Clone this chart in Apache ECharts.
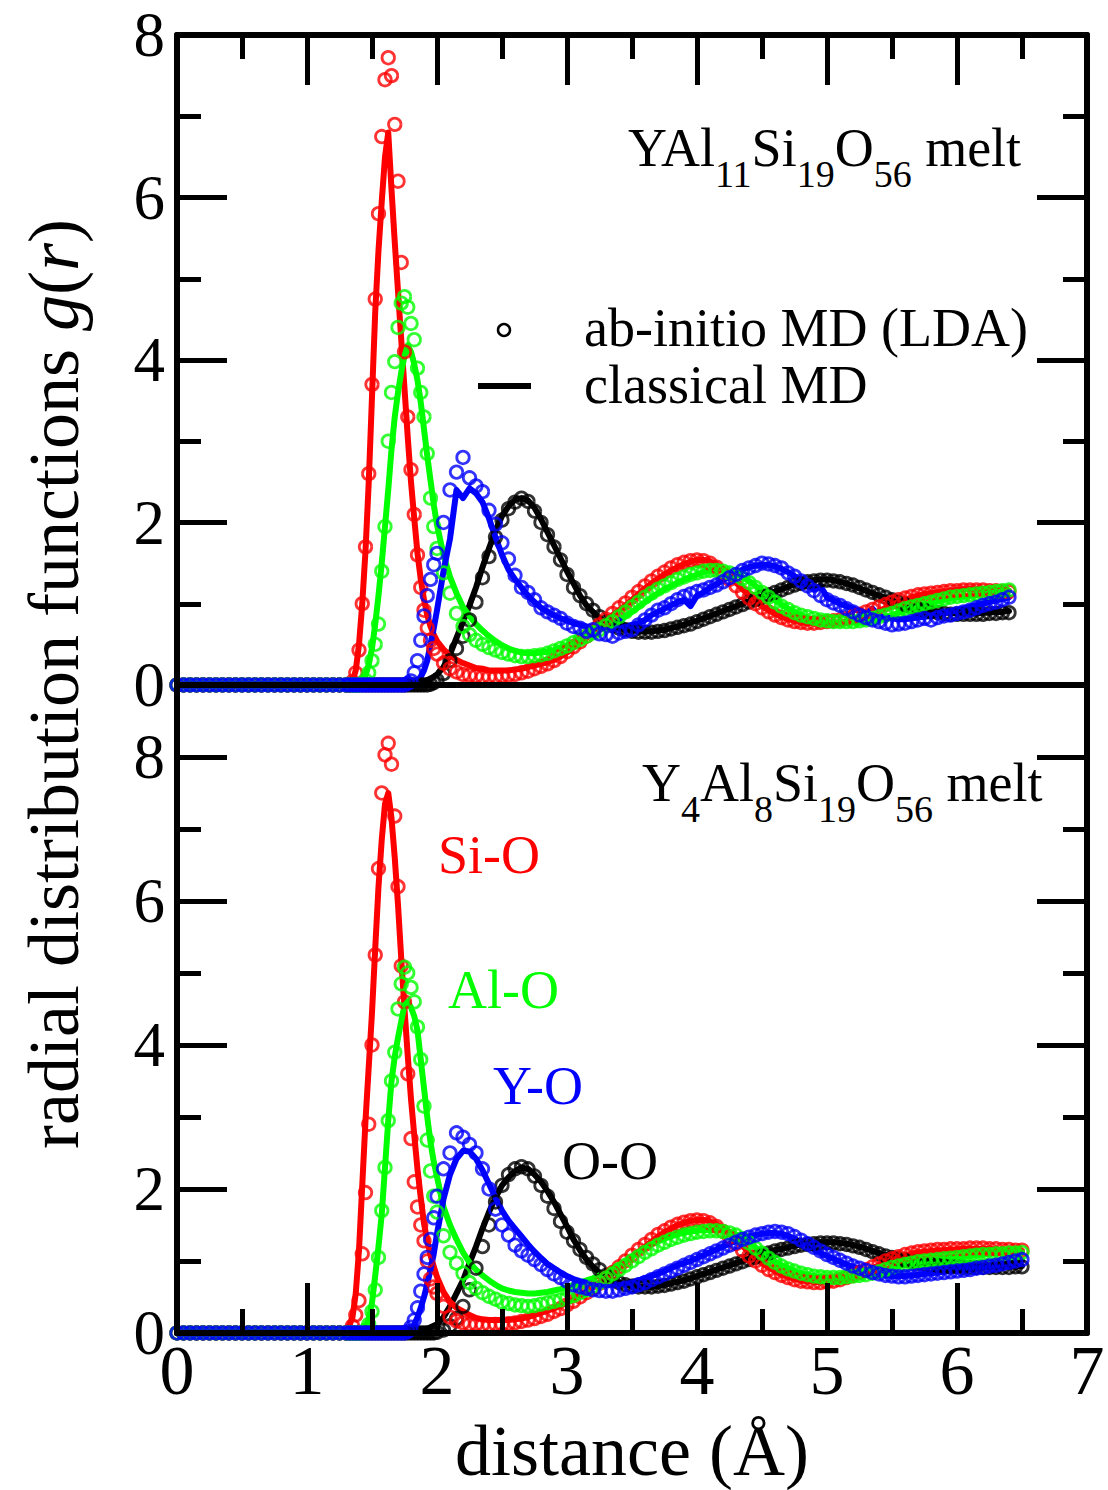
<!DOCTYPE html>
<html>
<head>
<meta charset="utf-8">
<script src="https://cdn.jsdelivr.net/npm/echarts@6/dist/echarts.min.js"></script>
<style>
html,body{margin:0;padding:0;background:#fff;}
#chart{width:1108px;height:1490px;}
</style>
</head>
<body>
<div id="chart"></div>
<script>
// ---------------- DATA ----------------
// distance grid r (Å)
const r = [
 0,0.05,0.1,0.15,0.2,0.25,0.3,0.35,0.4,0.45,0.5,0.55,0.6,0.65,0.7,0.75,0.8,0.85,0.9,0.95,1,1.05,1.1,1.15,1.2,1.25,1.3,
 1.325,1.35,1.375,1.4,1.425,1.45,1.475,1.5,1.525,1.55,
 1.575,1.6,1.625,1.65,1.675,1.7,1.725,1.75,1.775,1.8,
 1.825,1.85,1.875,1.9,1.925,1.95,1.975,2,
 2.05,2.1,2.15,2.2,2.25,2.3,2.35,2.4,2.45,2.5,
 2.55,2.6,2.65,2.7,2.75,2.8,2.85,2.9,2.95,3,
 3.05,3.1,3.15,3.2,3.25,3.3,3.35,3.4,3.45,3.5,
 3.55,3.6,3.65,3.7,3.75,3.8,3.85,3.9,3.95,4,
 4.05,4.1,4.15,4.2,4.25,4.3,4.35,4.4,4.45,4.5,
 4.55,4.6,4.65,4.7,4.75,4.8,4.85,4.9,4.95,5,
 5.05,5.1,5.15,5.2,5.25,5.3,5.35,5.4,5.45,5.5,
 5.55,5.6,5.65,5.7,5.75,5.8,5.85,5.9,5.95,6,
 6.05,6.1,6.15,6.2,6.25,6.3,6.35,6.4,6.45,6.5
];

// ===== top panel: YAl11Si19O56 melt =====
const top_OO_abinitio = [
 0,0,0,0,0,0,0,0,0, 0,0,0,0,0,0,0,0,0, 0,0,0,0,0,0,0,0,0,
 0,0,0,0,0,0,0,0,0,0,
 0,0,0,0,0,0,0,0,0,0,
 0,0,0,0,0,0.01,0.03,0.06,
 0.14,0.3,0.45,0.6,0.8,1.02,1.32,1.58,1.82,2.03,
 2.17,2.25,2.3,2.26,2.14,2,1.85,1.7,1.54,1.36,
 1.2,1.1,1,0.92,0.84,0.78,0.73,0.7,0.68,0.66,
 0.65,0.65,0.65,0.66,0.67,0.69,0.71,0.73,0.75,0.78,
 0.81,0.84,0.87,0.9,0.93,0.96,0.99,1.02,1.05,1.08,
 1.11,1.14,1.17,1.2,1.23,1.25,1.27,1.28,1.29,1.29,
 1.28,1.27,1.25,1.23,1.2,1.17,1.14,1.11,1.08,1.05,
 1.02,0.99,0.96,0.94,0.92,0.9,0.89,0.88,0.87,0.87,
 0.87,0.87,0.87,0.87,0.88,0.88,0.89,0.89,null,null
];
const top_OO_classical = [
 0,0,0,0,0,0,0,0,0, 0,0,0,0,0,0,0,0,0, 0,0,0,0,0,0,0,0,0,
 0,0,0,0,0,0,0,0,0,0,
 0,0,0,0,0,0,0,0,0.005,0.01,
 0.01,0.02,0.03,0.04,0.06,0.08,0.1,0.13,
 0.22,0.38,0.58,0.78,0.98,1.2,1.45,1.68,1.9,2.08,
 2.2,2.28,2.3,2.27,2.18,2.04,1.88,1.72,1.56,1.4,
 1.25,1.1,0.98,0.9,0.82,0.77,0.72,0.7,0.68,0.67,
 0.66,0.66,0.66,0.67,0.68,0.7,0.72,0.74,0.77,0.79,
 0.82,0.85,0.88,0.91,0.94,0.97,1,1.03,1.06,1.09,
 1.12,1.15,1.18,1.21,1.24,1.26,1.28,1.29,1.3,1.3,
 1.29,1.27,1.25,1.22,1.19,1.16,1.13,1.1,1.07,1.04,
 1.01,0.98,0.96,0.94,0.92,0.91,0.9,0.89,0.89,0.88,
 0.88,0.88,0.88,0.89,0.89,0.9,0.9,0.91,null,null
];
const top_SiO_abinitio = [
 0,0,0,0,0,0,0,0,0, 0,0,0,0,0,0,0,0,0, 0,0,0,0,0,0,0,0,0,
 0,0.04,0.15,0.43,1,1.7,2.6,3.7,4.75,5.8,
 6.75,7.45,7.72,7.5,6.9,6.2,5.2,4.1,3.3,2.65,
 2.1,1.6,1.2,0.92,0.7,0.55,0.45,0.38,
 0.27,0.2,0.16,0.13,0.12,0.11,0.1,0.1,0.1,0.11,
 0.12,0.13,0.15,0.17,0.2,0.23,0.26,0.3,0.35,0.41,
 0.47,0.53,0.6,0.67,0.74,0.81,0.88,0.95,1.01,1.08,
 1.15,1.22,1.28,1.34,1.39,1.44,1.48,1.51,1.53,1.54,
 1.53,1.5,1.45,1.38,1.3,1.22,1.14,1.07,1,0.95,
 0.9,0.86,0.83,0.8,0.78,0.77,0.76,0.76,0.77,0.78,
 0.79,0.8,0.82,0.84,0.87,0.9,0.93,0.96,0.99,1.02,
 1.05,1.07,1.09,1.11,1.12,1.13,1.14,1.15,1.16,1.16,
 1.17,1.17,1.17,1.17,1.16,1.16,1.15,1.15,null,null
];
const top_SiO_classical = [
 0,0,0,0,0,0,0,0,0, 0,0,0,0,0,0,0,0,0, 0,0,0,0,0,0,0,0,0,
 0,0.05,0.18,0.5,1,1.65,2.5,3.55,4.6,5.35,
 5.95,6.5,6.8,6.1,5.45,4.85,4.25,3.65,3.05,2.5,
 2.05,1.62,1.3,1.05,0.86,0.72,0.62,0.54,
 0.44,0.36,0.31,0.27,0.24,0.21,0.2,0.18,0.18,0.18,
 0.18,0.19,0.2,0.22,0.24,0.26,0.28,0.31,0.35,0.4,
 0.46,0.52,0.58,0.65,0.72,0.79,0.86,0.92,0.98,1.05,
 1.12,1.19,1.25,1.31,1.36,1.41,1.45,1.49,1.52,1.54,
 1.54,1.52,1.48,1.42,1.34,1.26,1.18,1.1,1.03,0.97,
 0.92,0.88,0.84,0.81,0.79,0.77,0.76,0.76,0.76,0.76,
 0.77,0.77,0.78,0.8,0.82,0.85,0.88,0.91,0.95,0.99,
 1.02,1.05,1.08,1.1,1.12,1.13,1.14,1.15,1.16,1.17,
 1.18,1.18,1.18,1.18,1.18,1.17,1.17,1.16,null,null
];
const top_AlO_abinitio = [
 0,0,0,0,0,0,0,0,0, 0,0,0,0,0,0,0,0,0, 0,0,0,0,0,0,0,0,0,
 0,0,0,0,0.02,0.06,0.15,0.3,0.5,0.75,
 1.4,1.95,3,3.6,3.98,4.4,4.7,4.78,4.65,4.45,
 4.25,3.9,3.6,3.3,2.85,2.3,1.95,1.68,
 1.38,1.13,0.88,0.72,0.62,0.55,0.5,0.46,0.43,0.4,
 0.38,0.36,0.35,0.35,0.36,0.37,0.39,0.42,0.45,0.48,
 0.52,0.56,0.6,0.64,0.68,0.73,0.78,0.84,0.9,0.96,
 1.02,1.08,1.13,1.18,1.22,1.26,1.3,1.33,1.36,1.38,
 1.4,1.41,1.41,1.4,1.38,1.35,1.31,1.26,1.2,1.14,
 1.08,1.02,0.97,0.93,0.89,0.86,0.84,0.82,0.8,0.79,
 0.78,0.78,0.78,0.78,0.79,0.8,0.82,0.84,0.86,0.88,
 0.91,0.94,0.96,0.98,1,1.02,1.04,1.06,1.08,1.09,
 1.1,1.11,1.12,1.13,1.14,1.15,1.16,1.17,null,null
];
const top_AlO_classical = [
 0,0,0,0,0,0,0,0,0, 0,0,0,0,0,0,0,0,0, 0,0,0,0,0,0,0,0,0,
 0,0,0,0,0.05,0.12,0.25,0.45,0.75,1.1,
 1.5,1.95,2.4,2.9,3.3,3.6,3.85,4.05,4.18,4.1,
 3.95,3.75,3.48,3.15,2.82,2.52,2.22,1.97,
 1.6,1.33,1.13,0.96,0.85,0.75,0.67,0.6,0.54,0.49,
 0.45,0.42,0.4,0.39,0.39,0.4,0.41,0.43,0.46,0.49,
 0.53,0.57,0.61,0.65,0.69,0.73,0.77,0.8,0.85,0.9,
 0.96,1.02,1.08,1.13,1.18,1.22,1.26,1.3,1.33,1.36,
 1.39,1.41,1.42,1.42,1.4,1.37,1.33,1.28,1.22,1.16,
 1.1,1.04,0.99,0.94,0.9,0.86,0.83,0.81,0.79,0.78,
 0.77,0.77,0.77,0.77,0.77,0.78,0.8,0.82,0.84,0.86,
 0.89,0.92,0.95,0.97,0.99,1.01,1.03,1.05,1.07,1.08,
 1.09,1.1,1.11,1.12,1.13,1.14,1.15,1.16,null,null
];
const top_YO_abinitio = [
 0,0,0,0,0,0,0,0,0, 0,0,0,0,0,0,0,0,0, 0,0,0,0,0,0,0,0,0,
 0,0,0,0,0,0,0,0,0,0,
 0,0,0,0,0,0,0,0,0.02,0.05,
 0.15,0.3,0.55,0.85,1.1,1.3,1.48,1.62,
 2,2.4,2.62,2.8,2.55,2.45,2.38,2.15,1.98,1.75,
 1.55,1.35,1.2,1.14,1.05,0.95,0.9,0.86,0.82,0.76,
 0.72,0.7,0.66,0.68,0.63,0.62,0.6,0.64,0.66,0.68,
 0.74,0.8,0.86,0.92,0.95,1,1.05,1.09,1.12,1.15,
 1.17,1.2,1.23,1.27,1.32,1.36,1.41,1.44,1.47,1.5,
 1.49,1.47,1.44,1.38,1.34,1.28,1.22,1.16,1.1,1.05,
 1.01,0.98,0.94,0.9,0.86,0.83,0.8,0.78,0.76,0.74,
 0.75,0.76,0.78,0.8,0.82,0.8,0.83,0.85,0.86,0.88,
 0.9,0.92,0.95,0.98,1,1.02,1.05,1.08,null,null
];
const top_YO_classical = [
 0,0,0,0,0,0,0,0,0, 0,0,0,0,0,0,0,0,0, 0,0,0,0,0,0,0,0,0,
 0,0,0,0,0,0,0,0,0,0,
 0,0,0,0,0,0,0,0,0.01,0.01,
 0.02,0.05,0.1,0.18,0.3,0.5,0.7,0.92,
 1.4,1.8,2.4,2.3,2.42,2.36,2.25,2.05,1.82,1.6,
 1.42,1.3,1.2,1.1,1.02,0.95,0.9,0.86,0.82,0.79,
 0.76,0.74,0.72,0.71,0.7,0.72,0.7,0.8,0.72,0.74,
 0.76,0.8,0.86,0.9,0.94,0.98,1.02,1.05,0.97,1.1,
 1.14,1.2,1.24,1.29,1.33,1.37,1.42,1.45,1.47,1.48,
 1.48,1.46,1.43,1.39,1.34,1.28,1.22,1.17,1.22,1.08,
 1.04,1,0.97,0.94,0.91,0.88,0.94,0.85,0.83,0.82,
 0.81,0.81,0.82,0.83,0.84,0.85,0.87,0.88,0.9,0.92,
 0.94,0.96,0.98,1,1.02,1.04,1.06,1.08,null,null
];

// ===== bottom panel: Y4Al8Si19O56 melt =====
const bot_OO_abinitio = [
 0,0,0,0,0,0,0,0,0, 0,0,0,0,0,0,0,0,0, 0,0,0,0,0,0,0,0,0,
 0,0,0,0,0,0,0,0,0,0,
 0,0,0,0,0,0,0,0,0,0,
 0,0,0,0,0,0,0,0.01,
 0.04,0.1,0.2,0.37,0.6,0.9,1.2,1.5,1.82,2.05,
 2.2,2.28,2.31,2.28,2.18,2.05,1.9,1.73,1.55,1.4,
 1.28,1.16,1.05,0.96,0.88,0.8,0.74,0.7,0.67,0.65,
 0.64,0.64,0.64,0.65,0.66,0.68,0.7,0.72,0.75,0.78,
 0.81,0.84,0.87,0.9,0.93,0.96,0.99,1.02,1.05,1.08,
 1.11,1.14,1.16,1.18,1.2,1.22,1.23,1.24,1.25,1.25,
 1.25,1.24,1.23,1.21,1.19,1.16,1.13,1.1,1.07,1.05,
 1.03,1.01,0.99,0.97,0.96,0.95,0.94,0.93,0.92,0.92,
 0.91,0.91,0.91,0.91,0.91,0.91,0.91,0.91,0.92,0.92
];
const bot_OO_classical = [
 0,0,0,0,0,0,0,0,0, 0,0,0,0,0,0,0,0,0, 0,0,0,0,0,0,0,0,0,
 0,0,0,0,0,0,0,0,0,0,
 0,0,0,0,0,0,0,0,0,0,
 0.01,0.02,0.03,0.04,0.06,0.08,0.1,0.12,
 0.22,0.37,0.55,0.73,0.97,1.2,1.45,1.68,1.88,2.05,
 2.16,2.25,2.3,2.28,2.2,2.1,1.97,1.82,1.65,1.48,
 1.3,1.15,1.02,0.92,0.84,0.78,0.73,0.7,0.67,0.65,
 0.64,0.64,0.64,0.65,0.67,0.69,0.71,0.73,0.76,0.79,
 0.82,0.85,0.88,0.91,0.94,0.97,1,1.03,1.06,1.09,
 1.12,1.15,1.17,1.19,1.21,1.23,1.24,1.25,1.26,1.26,
 1.26,1.25,1.24,1.22,1.2,1.17,1.14,1.11,1.08,1.06,
 1.04,1.02,1,0.98,0.97,0.96,0.95,0.94,0.93,0.93,
 0.92,0.92,0.92,0.92,0.92,0.92,0.92,0.92,0.92,0.93
];
const bot_SiO_abinitio = [
 0,0,0,0,0,0,0,0,0, 0,0,0,0,0,0,0,0,0, 0,0,0,0,0,0,0,0,0,
 0.02,0.1,0.25,0.45,1.1,1.95,2.9,4,5.25,6.45,
 7.5,8.03,8.19,7.9,7.18,6.2,5.1,4.6,3.6,2.7,
 2.1,1.75,1.5,1.28,1,0.75,0.64,0.55,
 0.37,0.22,0.17,0.14,0.12,0.12,0.11,0.11,0.12,0.12,
 0.13,0.14,0.16,0.18,0.2,0.23,0.26,0.3,0.34,0.39,
 0.44,0.5,0.56,0.62,0.69,0.76,0.84,0.92,1,1.08,
 1.16,1.23,1.3,1.37,1.42,1.47,1.51,1.54,1.56,1.57,
 1.56,1.53,1.48,1.41,1.33,1.24,1.15,1.07,1,0.94,
 0.88,0.84,0.8,0.77,0.74,0.72,0.71,0.7,0.7,0.71,
 0.72,0.74,0.77,0.8,0.84,0.88,0.92,0.96,1,1.03,
 1.06,1.09,1.11,1.13,1.14,1.15,1.16,1.16,1.17,1.17,
 1.17,1.18,1.18,1.18,1.17,1.17,1.16,1.16,1.15,1.15
];
const bot_SiO_classical = [
 0,0,0,0,0,0,0,0,0, 0,0,0,0,0,0,0,0,0, 0,0,0,0,0,0,0,0,0,
 0.1,0.22,0.55,1.15,2.05,2.95,3.7,4.45,5.35,6.2,
 6.85,7.35,7.5,7.15,6.6,5.95,5.2,4.5,3.85,3.25,
 2.75,2.27,1.88,1.52,1.28,1.08,0.92,0.78,
 0.57,0.43,0.35,0.3,0.25,0.21,0.19,0.18,0.18,0.18,
 0.18,0.19,0.2,0.22,0.25,0.28,0.31,0.34,0.38,0.42,
 0.47,0.52,0.58,0.64,0.7,0.76,0.83,0.9,0.98,1.06,
 1.13,1.2,1.27,1.34,1.4,1.45,1.5,1.53,1.56,1.57,
 1.57,1.55,1.51,1.45,1.38,1.3,1.21,1.12,1.04,0.97,
 0.91,0.86,0.81,0.78,0.75,0.73,0.72,0.71,0.71,0.71,
 0.72,0.73,0.75,0.78,0.82,0.86,0.9,0.94,0.98,1.02,
 1.05,1.08,1.1,1.12,1.13,1.14,1.15,1.15,1.16,1.16,
 1.17,1.17,1.17,1.17,1.17,1.16,1.16,1.15,1.15,1.14
];
const bot_AlO_abinitio = [
 0,0,0,0,0,0,0,0,0, 0,0,0,0,0,0,0,0,0, 0,0,0,0,0,0,0,0,0,
 0,0,0,0,0,0.04,0.12,0.3,0.6,1.05,
 1.7,2.3,2.95,3.5,3.9,4.5,4.85,5.08,5,4.8,
 4.6,4.25,3.8,3.15,2.68,2.25,1.9,1.68,
 1.35,1.12,0.97,0.83,0.7,0.62,0.56,0.51,0.47,0.43,
 0.41,0.39,0.38,0.37,0.38,0.4,0.42,0.44,0.46,0.49,
 0.52,0.56,0.6,0.65,0.7,0.76,0.82,0.88,0.94,1,
 1.06,1.12,1.17,1.22,1.26,1.3,1.33,1.36,1.38,1.4,
 1.41,1.42,1.42,1.41,1.39,1.36,1.31,1.25,1.18,1.11,
 1.04,0.98,0.93,0.89,0.86,0.83,0.81,0.79,0.78,0.77,
 0.77,0.77,0.78,0.79,0.8,0.81,0.83,0.85,0.88,0.91,
 0.93,0.95,0.97,0.99,1,1.01,1.02,1.03,1.04,1.05,
 1.06,1.07,1.08,1.09,1.09,1.1,1.1,1.11,1.11,1.12
];
const bot_AlO_classical = [
 0,0,0,0,0,0,0,0,0, 0,0,0,0,0,0,0,0,0, 0,0,0,0,0,0,0,0,0,
 0,0,0,0,0.03,0.08,0.2,0.42,0.8,1.2,
 1.65,2.3,2.95,3.5,3.84,4.1,4.33,4.55,4.6,4.52,
 4.4,4.2,3.8,3.4,3,2.65,2.38,2.17,
 1.75,1.5,1.3,1.12,0.98,0.88,0.8,0.73,0.67,0.62,
 0.59,0.57,0.56,0.55,0.55,0.56,0.57,0.59,0.61,0.64,
 0.67,0.7,0.73,0.76,0.8,0.85,0.9,0.95,1,1.06,
 1.12,1.18,1.23,1.27,1.31,1.34,1.37,1.39,1.41,1.42,
 1.43,1.43,1.43,1.42,1.4,1.37,1.32,1.26,1.19,1.12,
 1.05,0.99,0.94,0.9,0.86,0.83,0.81,0.79,0.78,0.77,
 0.77,0.77,0.77,0.78,0.79,0.8,0.82,0.84,0.87,0.9,
 0.93,0.95,0.97,0.99,1,1.01,1.02,1.03,1.04,1.05,
 1.06,1.07,1.08,1.09,1.1,1.1,1.11,1.11,1.12,1.12
];
const bot_YO_abinitio = [
 0,0,0,0,0,0,0,0,0, 0,0,0,0,0,0,0,0,0, 0,0,0,0,0,0,0,0,0,
 0,0,0,0,0,0,0,0,0,0,
 0,0,0,0,0,0,0,0,0.02,0.08,
 0.18,0.35,0.58,0.82,1.05,1.3,1.6,1.9,
 2.28,2.5,2.78,2.72,2.62,2.5,2.28,2,1.72,1.5,
 1.36,1.22,1.14,1.08,1.02,0.95,0.88,0.82,0.77,0.72,
 0.67,0.64,0.62,0.6,0.59,0.58,0.58,0.6,0.62,0.64,
 0.67,0.7,0.74,0.78,0.82,0.86,0.9,0.94,0.98,1.02,
 1.06,1.1,1.14,1.18,1.22,1.26,1.3,1.33,1.36,1.38,
 1.4,1.41,1.4,1.38,1.34,1.29,1.24,1.19,1.14,1.09,
 1.05,1.01,0.97,0.93,0.9,0.87,0.84,0.82,0.8,0.79,
 0.78,0.78,0.79,0.8,0.81,0.82,0.83,0.84,0.85,0.86,
 0.87,0.88,0.9,0.91,0.93,0.94,0.96,0.98,1,1.02
];
const bot_YO_classical = [
 0,0,0,0,0,0,0,0,0, 0,0,0,0,0,0,0,0,0, 0,0,0,0,0,0,0,0,0,
 0,0,0,0,0,0,0,0,0,0,
 0,0,0,0,0,0,0,0,0,0.05,
 0.12,0.22,0.35,0.5,0.68,0.88,1.1,1.38,
 1.86,2.2,2.42,2.53,2.52,2.42,2.26,2.07,1.88,1.7,
 1.56,1.45,1.34,1.23,1.13,1.04,0.96,0.9,0.84,0.79,
 0.75,0.72,0.7,0.68,0.67,0.67,0.67,0.68,0.69,0.71,
 0.73,0.76,0.79,0.82,0.86,0.9,0.94,0.97,1,1.04,
 1.08,1.12,1.16,1.2,1.24,1.28,1.31,1.34,1.36,1.38,
 1.39,1.39,1.38,1.35,1.31,1.26,1.21,1.16,1.11,1.07,
 1.03,0.99,0.95,0.92,0.89,0.86,0.84,0.82,0.8,0.79,
 0.79,0.79,0.8,0.81,0.82,0.83,0.84,0.85,0.86,0.87,
 0.88,0.89,0.9,0.91,0.93,0.94,0.96,0.97,0.99,1
];

// labels / categories
const pairNames = ['Si-O', 'Al-O', 'Y-O', 'O-O'];
const pairColors = ['#ff0000', '#00ff00', '#0000ff', '#000000'];
const xTickLabels = ['0','1','2','3','4','5','6','7'];
const legendTexts = ['ab-initio MD (LDA)', 'classical MD'];
const topTitle = [['YAl',0],['11',1],['Si',0],['19',1],['O',0],['56',1],[' melt',0]];
const botTitle = [['Y',0],['4',1],['Al',0],['8',1],['Si',0],['19',1],['O',0],['56',1],[' melt',0]];
const yTitle = 'radial distribution functions ';
const xTitle = 'distance (Å)';

// ---------------- CHART ----------------
const FONT = '"Liberation Serif", "Times New Roman", serif';
const chart = echarts.init(document.getElementById('chart'), null, {renderer: 'svg'});

const allSets = {top_OO_abinitio, top_OO_classical, top_SiO_abinitio, top_SiO_classical, top_AlO_abinitio, top_AlO_classical, top_YO_abinitio, top_YO_classical,
  bot_OO_abinitio, bot_OO_classical, bot_SiO_abinitio, bot_SiO_classical, bot_AlO_abinitio, bot_AlO_classical, bot_YO_abinitio, bot_YO_classical};
for (const k in allSets) { if (allSets[k].length !== r.length) console.error('length mismatch', k, allSets[k].length, r.length); }

function pts(vals) {
  const out = [];
  for (let i = 0; i < r.length; i++) { if (vals[i] !== null && vals[i] !== undefined) out.push([r[i], vals[i]]); }
  return out;
}
function scatterS(name, vals, color, xi, yi) {
  return {type: 'scatter', name, data: pts(vals), xAxisIndex: xi, yAxisIndex: yi, symbol: 'circle', symbolSize: 12.5,
    itemStyle: {color: 'rgba(0,0,0,0)', borderColor: color, borderWidth: 2.8}, clip: false, silent: true, animation: false, z: 2};
}
function lineS(name, vals, color, xi, yi) {
  return {type: 'line', name, data: pts(vals), xAxisIndex: xi, yAxisIndex: yi, showSymbol: false, symbol: 'none',
    lineStyle: {color: color, width: 6, join: 'round', cap: 'round'}, clip: false, silent: true, animation: false, z: 2};
}

const LINE = {show: true, onZero: false, lineStyle: {color: '#000', width: 6}};
const MAJ = {show: true, inside: true, length: 50, lineStyle: {color: '#000', width: 5}};
const MIN = {show: true, inside: true, length: 24, lineStyle: {color: '#000', width: 5}};
const XLBL = {show: true, color: '#000', fontFamily: FONT, fontSize: 70, lineHeight: 52, showMinLabel: true, showMaxLabel: true};
const YLBL = {show: true, color: '#000', fontFamily: FONT, fontSize: 63, lineHeight: 50, showMinLabel: true, showMaxLabel: true};
function ax(o) {
  return Object.assign({type: 'value', min: 0, splitLine: {show: false}, axisLabel: {show: false},
    axisTick: {show: false}, axisLine: {show: false, onZero: false}, z: 10}, o);
}

const xAxis = [
  ax({gridIndex: 0, position: 'top', max: 7, interval: 1, axisLine: LINE, axisTick: MAJ}),
  ax({gridIndex: 0, position: 'top', max: 7, interval: 0.5, axisTick: MIN}),
  ax({gridIndex: 0, position: 'bottom', max: 7, interval: 1, axisLine: LINE}),
  ax({gridIndex: 1, position: 'bottom', max: 7, interval: 1, axisLine: LINE, axisTick: MAJ,
      axisLabel: Object.assign({}, XLBL, {margin: 11, formatter: v => xTickLabels[Math.round(v)] || ''})}),
  ax({gridIndex: 1, position: 'bottom', max: 7, interval: 0.5, axisTick: MIN}),
  ax({gridIndex: 1, position: 'top', max: 7, interval: 1, axisLine: LINE})
];
const yAxis = [
  ax({gridIndex: 0, position: 'left', max: 8, interval: 2, axisLine: LINE, axisTick: MAJ,
      axisLabel: Object.assign({}, YLBL, {margin: 12})}),
  ax({gridIndex: 0, position: 'left', max: 8, interval: 1, axisTick: MIN}),
  ax({gridIndex: 0, position: 'right', max: 8, interval: 2, axisLine: LINE, axisTick: MAJ}),
  ax({gridIndex: 0, position: 'right', max: 8, interval: 1, axisTick: MIN}),
  ax({gridIndex: 1, position: 'left', max: 9, interval: 2, axisLine: LINE, axisTick: MAJ,
      axisLabel: Object.assign({}, YLBL, {margin: 12, formatter: v => (v >= 9 ? '' : String(v))})}),
  ax({gridIndex: 1, position: 'left', max: 9, interval: 1, axisTick: MIN}),
  ax({gridIndex: 1, position: 'right', max: 9, interval: 2, axisLine: LINE, axisTick: MAJ}),
  ax({gridIndex: 1, position: 'right', max: 9, interval: 1, axisTick: MIN})
];

const series = [
  scatterS('O-O ab-initio (top)', top_OO_abinitio, pairColors[3], 0, 0),
  lineS('O-O classical (top)', top_OO_classical, pairColors[3], 0, 0),
  scatterS('Si-O ab-initio (top)', top_SiO_abinitio, pairColors[0], 0, 0),
  lineS('Si-O classical (top)', top_SiO_classical, pairColors[0], 0, 0),
  scatterS('Al-O ab-initio (top)', top_AlO_abinitio, pairColors[1], 0, 0),
  lineS('Al-O classical (top)', top_AlO_classical, pairColors[1], 0, 0),
  scatterS('Y-O ab-initio (top)', top_YO_abinitio, pairColors[2], 0, 0),
  lineS('Y-O classical (top)', top_YO_classical, pairColors[2], 0, 0),
  scatterS('O-O ab-initio (bottom)', bot_OO_abinitio, pairColors[3], 3, 4),
  lineS('O-O classical (bottom)', bot_OO_classical, pairColors[3], 3, 4),
  scatterS('Si-O ab-initio (bottom)', bot_SiO_abinitio, pairColors[0], 3, 4),
  lineS('Si-O classical (bottom)', bot_SiO_classical, pairColors[0], 3, 4),
  scatterS('Al-O ab-initio (bottom)', bot_AlO_abinitio, pairColors[1], 3, 4),
  lineS('Al-O classical (bottom)', bot_AlO_classical, pairColors[1], 3, 4),
  scatterS('Y-O ab-initio (bottom)', bot_YO_abinitio, pairColors[2], 3, 4),
  lineS('Y-O classical (bottom)', bot_YO_classical, pairColors[2], 3, 4)
];

// text helpers (baseline placement)
const mctx = document.createElement('canvas').getContext('2d');
function tw(t, size) { mctx.font = size + 'px "Liberation Serif"'; return mctx.measureText(t).width; }
const CEN = 0.3375; // central baseline offset (em) above alphabetic baseline
function txt(t, x, base, size, color, align) {
  return {type: 'text', x: x, y: base - CEN * size, z: 20, silent: true,
    style: {text: t, fontSize: size, fontFamily: FONT, fill: color, align: align || 'left', verticalAlign: 'middle', lineHeight: Math.round(size * 0.8)}};
}
function chem(parts, x, base, size, subSize, drop, color) {
  const els = []; let cx = x;
  for (const [t, sub] of parts) {
    const s = sub ? subSize : size;
    els.push(txt(t, cx, sub ? base + drop : base, s, color));
    cx += tw(t, s);
  }
  return els;
}

const graphic = [].concat(
  chem(topTitle, 628, 166, 54, 38, 21, '#000'),
  chem(botTitle, 642, 801, 54, 38, 21, '#000'),
  [
    {type: 'circle', z: 20, silent: true, shape: {cx: 504, cy: 330, r: 6}, style: {fill: 'none', stroke: '#000', lineWidth: 2.5}},
    {type: 'line', z: 20, silent: true, shape: {x1: 478, y1: 386, x2: 531, y2: 386}, style: {stroke: '#000', lineWidth: 6}},
    txt(legendTexts[0], 584, 346, 54, '#000'),
    txt(legendTexts[1], 584, 403, 54, '#000'),
    txt(pairNames[0], 438, 873, 54, pairColors[0]),
    txt(pairNames[1], 448, 1008, 54, pairColors[1]),
    txt(pairNames[2], 493, 1104, 54, pairColors[2]),
    txt(pairNames[3], 562, 1179, 54, pairColors[3]),
    txt(xTitle, 632, 1475, 72, '#000', 'center'),
    {type: 'text', x: 54, y: 684, rotation: Math.PI / 2, z: 20, silent: true,
      style: {text: '{n|' + yTitle + '}{i|g}{n|(}{i|r}{n|)}', align: 'center', verticalAlign: 'middle',
        rich: {n: {fontSize: 72, fontFamily: FONT, fill: '#000', lineHeight: 60}, i: {fontSize: 72, fontFamily: FONT, fontStyle: 'italic', fill: '#000', lineHeight: 60}}}}
  ]
);

chart.setOption({
  animation: false,
  backgroundColor: '#ffffff',
  grid: [
    {left: 177, top: 35, width: 910, height: 650, containLabel: false},
    {left: 177, top: 685, width: 910, height: 648, containLabel: false}
  ],
  xAxis: xAxis,
  yAxis: yAxis,
  series: series,
  graphic: graphic
});
</script>
</body>
</html>
